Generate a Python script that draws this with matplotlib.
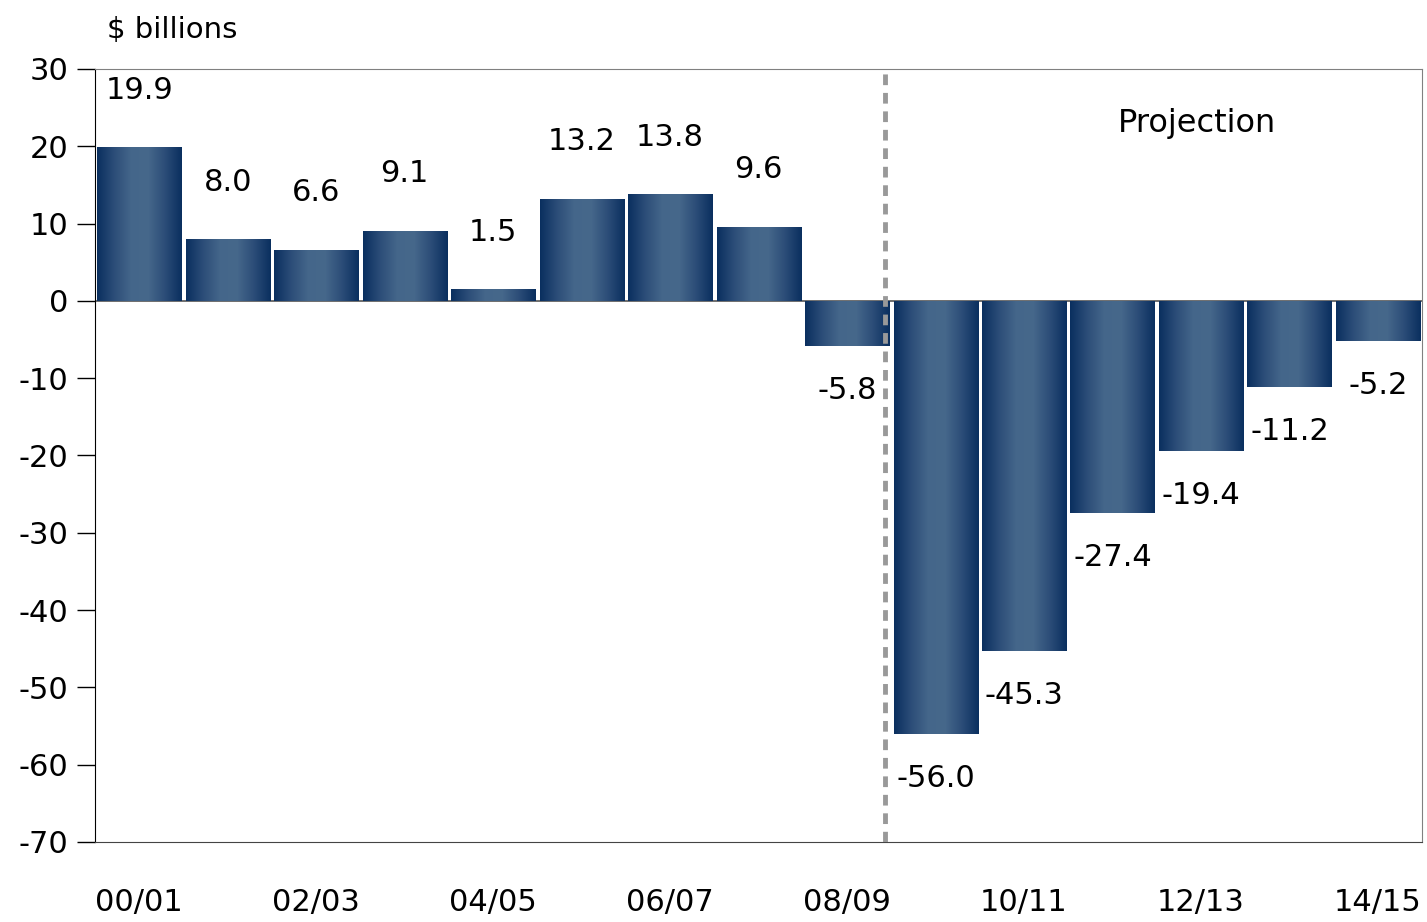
import numpy as np
import matplotlib.pyplot as plt
from matplotlib.colors import LinearSegmentedColormap

years = ['00/01', '01/02', '02/03', '03/04', '04/05', '05/06', '06/07', '07/08',
         '08/09', '09/10', '10/11', '11/12', '12/13', '13/14', '14/15']
balance = [19.9, 8.0, 6.6, 9.1, 1.5, 13.2, 13.8, 9.6,
           -5.8, -56.0, -45.3, -27.4, -19.4, -11.2, -5.2]
tick_years = years[::2]

plt.rcParams['font.family'] = ['DejaVu Sans']
plt.rcParams['axes.unicode_minus'] = False

fig = plt.figure(figsize=(14.27, 9.22), dpi=100)
ax = fig.add_axes([0.0666, 0.0868, 0.93, 0.8384])

x = np.arange(len(years))
bars = ax.bar(x, balance, width=0.95, color='none', edgecolor='none', zorder=2)

# horizontal gradient: dark edges, lighter middle
cmap = LinearSegmentedColormap.from_list(
    'bar', ['#0a2f5f', '#2c4d78', '#44668a', '#46688b', '#2c4d78', '#0a2f5f'])
grad = np.linspace(0, 1, 256).reshape(1, -1)
for b in bars:
    x0, y0 = b.get_x(), b.get_y()
    w, h = b.get_width(), b.get_height()
    im = ax.imshow(grad, cmap=cmap, aspect='auto', interpolation='bilinear',
                   extent=[x0, x0 + w, y0, y0 + h], zorder=2)
    im.set_clip_path(b)

for xi, v in zip(x, balance):
    off = 41 if v > 0 else -32
    ax.annotate(f'{v:.1f}', (xi, v), xytext=(0, off), textcoords='offset points',
                ha='center', va='center', fontsize=22)

ax.axhline(0, color='#555555', lw=1.2, zorder=1)
ax.axvline(8.43, color='#999999', lw=3.5, ls=(0, (2.2, 1.6)), zorder=3)
ax.text(11.95, 23, 'Projection', ha='center', va='center', fontsize=23)

ax.set_xlim(-0.5, len(years) - 0.5)
ax.set_ylim(-70, 30)
ax.set_yticks(range(-70, 31, 10))
ax.tick_params(axis='y', labelsize=22, length=13, width=1, direction='out', pad=6)
ax.set_xticks(x[::2])
ax.set_xticklabels(tick_years, fontsize=22)
ax.tick_params(axis='x', length=0, pad=33)

ax.spines['left'].set_color('black')
ax.spines['bottom'].set_color('#444444')
ax.spines['top'].set_color('#808080')
ax.spines['right'].set_color('#808080')

fig.text(0.075, 0.967, '$ billions', fontsize=21, ha='left', va='center')

fig.savefig('out.png', dpi=100)
